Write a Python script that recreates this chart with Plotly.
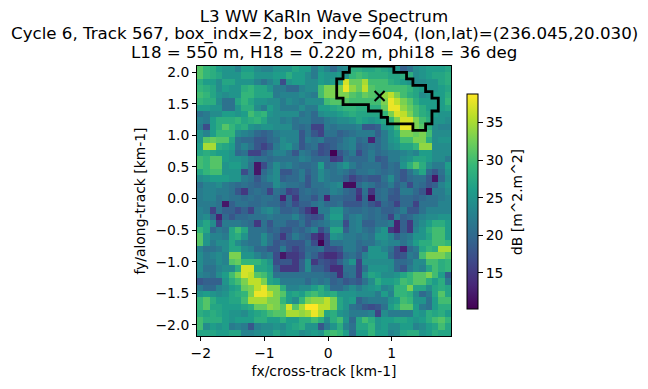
import plotly.graph_objects as go

title_lines = [
    "L3 WW KaRIn Wave Spectrum",
    "Cycle 6, Track 567, box_indx=2, box_indy=604, (lon,lat)=(236.045,20.030)",
    "L18 = 550 m, H18 = 0.220 m, phi18 = 36 deg",
]
x_label = "fx/cross-track [km-1]"
y_label = "fy/along-track [km-1]"
cbar_label = "dB [m^2.m^2]"
x_ticks = [-2, -1, 0, 1]
y_ticks = [-2.0, -1.5, -1.0, -0.5, 0.0, 0.5, 1.0, 1.5, 2.0]
cbar_ticks = [15, 20, 25, 30, 35]

# spectrum in dB, read row by row from the top, cols 0-19 and cols 20-39
left_half = [
    [31,29,28,26,25,25,23,26,26,24,23,23,25,25,25,27,26,26,22,25],
    [31,29,28,27,25,25,25,27,27,25,25,25,26,26,28,26,26,24,22,26],
    [28,26,26,24,27,27,25,25,25,23,21,23,25,17,25,26,26,24,24,26],
    [29,28,27,24,26,25,25,28,29,27,27,25,22,22,20,20,23,24,24,30],
    [30,29,27,25,24,25,25,29,29,27,27,27,22,23,23,23,24,23,22,30],
    [29,28,28,24,21,21,27,29,27,25,25,24,24,22,24,23,22,24,24,24],
    [26,26,25,25,21,21,25,28,28,24,22,26,24,22,22,22,24,22,22,26],
    [21,22,24,24,26,26,25,26,30,28,29,25,24,24,24,24,21,22,20,24],
    [23,22,26,28,28,28,29,27,28,29,27,24,24,22,23,21,22,22,20,20],
    [22,17,26,28,31,29,27,28,25,24,25,25,24,24,24,21,20,21,16,16],
    [25,23,26,29,29,29,24,23,22,20,19,20,22,23,23,23,18,21,18,16],
    [25,31,32,31,31,27,21,20,20,18,18,20,21,24,23,23,18,22,21,22],
    [26,35,35,28,27,26,21,23,21,18,16,18,22,24,25,22,18,20,21,17],
    [27,28,27,26,26,25,20,21,16,16,19,21,23,23,21,18,22,21,19,17],
    [30,29,31,31,26,25,25,24,22,21,21,20,21,21,21,21,23,22,20,20],
    [30,29,31,31,25,26,26,24,21,12,17,21,24,22,23,21,20,20,21,26],
    [27,29,30,30,25,25,25,17,21,12,20,22,24,18,18,20,22,19,21,24],
    [24,25,26,26,26,25,25,22,21,18,21,23,24,19,20,20,22,18,21,24],
    [21,23,23,24,22,21,20,21,20,19,20,20,24,22,21,21,20,18,21,21],
    [22,23,23,22,22,21,18,15,20,21,20,16,21,20,16,17,20,21,20,21],
    [22,23,23,21,22,21,21,20,21,20,21,21,20,13,20,15,20,20,18,21],
    [22,22,22,21,12,19,21,21,20,20,21,20,20,18,20,17,19,19,21,22],
    [23,22,16,21,19,19,17,19,16,21,23,24,22,19,19,20,18,15,12,22],
    [23,24,20,13,20,18,20,20,21,21,21,22,21,21,21,23,20,18,17,18],
    [25,27,24,16,22,22,22,21,20,15,21,18,21,21,19,19,21,18,20,21],
    [29,27,20,22,21,27,30,27,21,21,21,19,20,18,18,20,19,21,23,17],
    [31,25,23,23,22,27,28,25,21,21,24,21,19,15,19,22,20,19,15,13],
    [31,25,22,24,24,27,24,22,21,21,24,21,18,19,18,18,18,21,17,10],
    [23,21,21,22,24,27,27,24,23,20,20,18,18,22,18,16,18,20,20,21],
    [24,22,23,24,23,33,33,25,25,23,21,22,17,12,15,15,17,21,19,16],
    [24,22,22,24,23,31,32,29,29,29,27,25,17,18,18,15,19,24,15,18],
    [24,21,21,23,24,24,28,37,37,27,27,26,19,15,15,15,19,24,19,19],
    [23,22,21,24,26,30,33,37,36,31,30,27,21,21,21,21,21,21,21,21],
    [18,19,19,19,25,28,30,33,36,36,33,27,26,22,22,22,22,20,22,21],
    [22,20,20,23,24,26,27,32,33,36,38,33,33,28,23,23,24,24,26,28],
    [25,26,25,24,25,27,28,29,33,38,38,36,33,31,26,27,26,29,30,28],
    [29,31,28,26,26,27,27,30,35,35,35,33,33,29,26,24,29,33,34,34],
    [29,31,27,27,26,26,26,27,28,32,32,34,33,31,37,31,35,39,39,36],
    [28,27,28,27,26,25,25,24,26,27,28,30,31,31,35,35,34,35,38,35],
    [30,28,28,28,26,25,26,26,26,28,28,26,26,28,26,26,28,28,30,28],
    [30,24,26,25,26,22,23,22,18,23,24,24,25,24,26,27,28,25,25,18],
    [27,27,27,26,26,27,27,23,23,24,25,25,27,25,26,26,24,25,26,25],
]
right_half = [
    [23,20,23,24,28,28,27,27,28,27,26,25,19,21,24,25,26,26,26,27],
    [25,25,26,25,29,30,29,28,28,28,27,27,28,28,24,25,26,27,27,28],
    [25,26,27,37,32,32,35,30,30,30,28,27,26,25,24,24,25,25,27,28],
    [33,33,33,38,34,32,36,31,30,30,30,30,30,29,27,26,25,25,26,27],
    [33,33,33,33,31,30,32,31,30,34,36,33,30,28,27,24,25,26,26,28],
    [30,31,31,31,30,30,30,30,30,33,38,36,33,31,28,26,26,26,26,29],
    [26,27,28,29,29,28,28,28,28,32,38,38,34,32,30,28,26,26,26,27],
    [25,25,26,27,28,27,27,27,27,29,33,37,36,33,30,28,27,26,25,25],
    [22,23,24,24,25,27,26,25,26,27,29,33,37,37,33,30,28,25,25,24],
    [22,21,22,22,22,23,18,18,19,25,26,30,38,38,33,31,28,24,23,23],
    [21,21,19,20,21,22,22,22,19,22,25,27,33,33,32,33,30,24,24,24],
    [19,19,20,22,23,20,21,13,20,22,25,26,30,30,33,33,28,24,25,25],
    [18,19,21,22,23,19,20,21,20,22,24,25,27,27,29,34,34,24,24,24],
    [18,10,18,20,22,17,20,22,20,21,22,22,23,24,23,26,26,24,24,24],
    [20,15,16,21,20,20,20,22,18,19,22,22,24,25,27,27,26,24,24,22],
    [20,21,23,25,22,20,21,21,21,19,21,20,25,28,31,28,24,22,22,26],
    [22,21,22,21,19,21,21,22,21,20,21,20,18,21,24,27,20,18,21,25],
    [22,21,21,19,16,18,19,18,18,21,24,20,18,20,21,21,18,12,20,24],
    [22,23,24,11,11,20,22,21,19,20,22,19,21,17,21,20,18,19,23,25],
    [21,23,22,20,19,15,21,15,20,21,19,18,22,22,20,18,12,22,22,24],
    [13,20,20,19,19,14,20,11,20,21,18,18,20,20,19,20,21,21,22,23],
    [20,20,21,18,18,18,20,18,16,20,19,16,20,20,16,21,21,21,23,23],
    [22,25,25,21,20,20,21,20,21,19,19,20,22,18,18,21,23,23,23,23],
    [23,26,26,20,22,23,21,20,21,20,16,22,19,20,22,23,24,24,25,25],
    [22,24,24,17,22,23,19,19,21,21,22,13,19,15,22,24,26,28,28,26],
    [20,27,27,19,22,23,21,20,23,25,15,13,19,15,23,25,28,30,30,26],
    [17,25,24,22,22,21,22,21,25,25,23,19,21,22,25,25,27,30,30,26],
    [17,21,21,22,22,20,21,21,23,24,23,23,21,23,26,28,28,30,30,29],
    [17,17,18,22,22,20,18,25,25,23,21,17,13,20,22,27,29,28,35,35],
    [14,14,16,20,21,19,23,25,25,25,20,17,18,22,21,30,33,33,33,31],
    [17,16,19,22,25,16,24,24,24,24,24,20,20,21,24,24,30,30,28,29],
    [17,14,14,21,21,16,21,25,25,25,24,20,18,22,24,23,27,30,28,29],
    [20,19,14,20,21,16,24,27,26,24,24,25,27,29,31,31,33,30,26,19],
    [22,19,20,18,19,18,21,24,28,26,26,27,30,29,31,31,28,26,28,22],
    [25,20,20,22,24,22,24,25,26,23,24,29,29,33,27,27,24,27,28,27],
    [27,28,25,25,25,24,24,24,22,26,23,29,29,28,24,20,22,27,31,27],
    [36,33,27,25,26,19,21,22,22,22,25,26,30,29,25,25,21,26,30,30],
    [36,33,27,25,21,20,18,17,18,21,26,28,31,31,26,22,21,26,28,28],
    [27,28,25,24,22,22,22,23,16,24,22,22,22,22,26,25,28,27,28,26],
    [24,28,30,25,20,27,30,28,25,26,26,27,27,26,25,26,28,30,31,29],
    [22,25,28,23,21,27,27,29,25,26,24,24,26,26,23,24,26,27,30,27],
    [29,30,29,26,20,26,26,29,26,26,23,24,27,28,28,25,26,28,27,27],
]
spectrum_db = [a + b for a, b in zip(left_half, right_half)]

# wave-partition outline, as cell edges (column, row)
outline_cols = [24,31,31,33,33,34,34,36,36,37,37,38,38,37,37,36,36,34,34,30,30,29,29,27,27,23,23,22,22,23,23,24,24]
outline_rows = [0,0,1,1,2,2,3,3,4,4,5,5,7,7,9,9,10,10,9,9,8,8,7,7,6,6,5,5,2,2,1,1,0]
peak_fx = [0.81]
peak_fy = [1.62]

x_start, y_start = -2.06, 2.095
x_step, y_step = 0.0998, 0.10165
n_rows, n_cols = len(spectrum_db), len(spectrum_db[0])
FONT = "DejaVu Sans"
TITLE_SIZE = 16.67
TEXT_SIZE = 13.9

fig = go.Figure()
fig.add_trace(go.Heatmap(
    z=spectrum_db,
    x0=x_start + x_step / 2, dx=x_step,
    y0=y_start - y_step / 2, dy=-y_step,
    colorscale="Viridis", zmin=10.2, zmax=38.8,
    colorbar=dict(
        thicknessmode="pixels", thickness=11, lenmode="pixels", len=215,
        x=(467 - 197) / 254, xanchor="left", xpad=0,
        y=(336 - 201.5) / 270, yanchor="middle", ypad=0,
        outlinecolor="black", outlinewidth=1,
        tickvals=cbar_ticks, ticks="outside", ticklen=5, tickwidth=1, tickcolor="black",
        tickfont=dict(family=FONT, size=TEXT_SIZE, color="black"),
    ),
))
fig.add_trace(go.Scatter(
    x=[x_start + c * x_step for c in outline_cols],
    y=[y_start - r * y_step for r in outline_rows],
    mode="lines", line=dict(color="black", width=2.8, shape="linear"),
    showlegend=False, hoverinfo="skip",
))
fig.add_trace(go.Scatter(
    x=peak_fx, y=peak_fy, mode="markers",
    marker=dict(symbol="x-thin", size=10, line=dict(color="black", width=2), color="black"),
    showlegend=False, hoverinfo="skip",
))

axis_common = dict(
    showgrid=False, zeroline=False, showline=True, mirror=True,
    linecolor="black", linewidth=1, ticks="outside", ticklen=4, tickwidth=1,
    tickcolor="black", tickfont=dict(family=FONT, size=TEXT_SIZE, color="black"),
)
fig.update_layout(
    width=648, height=389, autosize=False,
    margin=dict(l=197, r=197, t=66, b=53),
    paper_bgcolor="white", plot_bgcolor="white", showlegend=False,
    title=dict(text=title_lines[0], x=324 / 648, xanchor="center", y=1 - 16 / 389, yanchor="middle",
               font=dict(family=FONT, size=TITLE_SIZE, color="black")),
    xaxis=dict(range=[x_start, x_start + n_cols * x_step], tickvals=x_ticks, ticktext=["\u22122", "\u22121", "0", "1"],
               title=dict(text=x_label, standoff=6, font=dict(family=FONT, size=TEXT_SIZE, color="black")), **axis_common),
    yaxis=dict(range=[y_start - n_rows * y_step, y_start], tickvals=y_ticks,
               ticktext=["\u22122.0", "\u22121.5", "\u22121.0", "\u22120.5", "0.0", "0.5", "1.0", "1.5", "2.0"],
               title=dict(text=y_label, standoff=6, font=dict(family=FONT, size=TEXT_SIZE, color="black")), **axis_common),
    annotations=[
        dict(text=title_lines[1], xref="paper", yref="paper", x=0.5, y=1 + (66 - 34) / 270, yanchor="middle",
             showarrow=False, font=dict(family=FONT, size=TITLE_SIZE, color="black")),
        dict(text=title_lines[2], xref="paper", yref="paper", x=0.5, y=1 + (66 - 52) / 270, yanchor="middle",
             showarrow=False, font=dict(family=FONT, size=TITLE_SIZE, color="black")),
        dict(text=cbar_label, xref="paper", yref="paper", x=(517 - 197) / 254, y=(336 - 202) / 270,
             textangle=-90, xanchor="center", yanchor="middle", showarrow=False,
             font=dict(family=FONT, size=TEXT_SIZE, color="black")),
    ],
)
fig.write_html("out.html", config={"displayModeBar": False}, post_script="document.body.style.margin='0';")
